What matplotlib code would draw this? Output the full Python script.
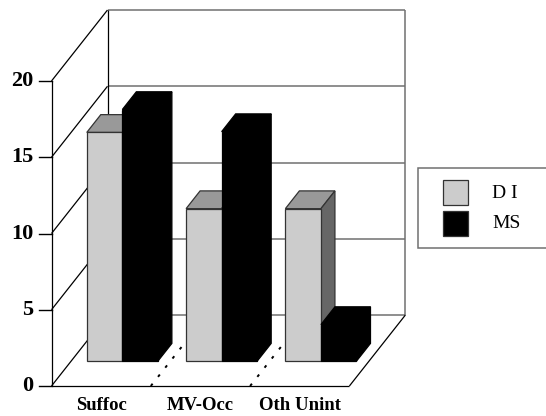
import matplotlib
matplotlib.use('Agg')
import matplotlib.pyplot as plt
from matplotlib.patches import Polygon, Rectangle

categories = ['Suffoc', 'MV-Occ', 'Oth Unint']
series_names = ['D I', 'MS']
di_values = [15, 10, 10]
ms_values = [16.5, 15.05, 2.4]
y_ticks = [0, 5, 10, 15, 20]

W, H = 546, 416
x_px = 99.3      # pixels per category
y_px = 15.25     # pixels per unit
x0_px, y0_px = 51.5, 386
DX = 56 / x_px   # depth shift of the back wall in data units
DY = 71 / y_px

plt.rcParams['font.family'] = ['Liberation Serif', 'DejaVu Serif']

fig = plt.figure(figsize=(W / 100, H / 100), dpi=100)
ax = fig.add_axes([0, 0, 1, 1])
ax.set_xlim(-x0_px / x_px, (W - x0_px) / x_px)
ax.set_ylim(-(H - y0_px) / y_px, y0_px / y_px)
ax.axis('off')


def project(x, v, d):
    return x + d * DX, v + d * DY


def line3d(p1, p2, **kw):
    a = project(*p1)
    b = project(*p2)
    ax.plot([a[0], b[0]], [a[1], b[1]], solid_capstyle='butt', **kw)


def box(x, w, v, d0, d1, front, top, side, edge):
    z = 5
    corners = [(x, v, d0), (x + w, v, d0), (x + w, v, d1), (x, v, d1)]
    ax.add_patch(Polygon([project(*c) for c in corners], fc=top, ec=edge, lw=0.9, zorder=z))
    corners = [(x + w, 0, d0), (x + w, v, d0), (x + w, v, d1), (x + w, 0, d1)]
    ax.add_patch(Polygon([project(*c) for c in corners], fc=side, ec=edge, lw=0.9, zorder=z))
    corners = [(x, 0, d0), (x + w, 0, d0), (x + w, v, d0), (x, v, d0)]
    ax.add_patch(Polygon([project(*c) for c in corners], fc=front, ec=edge, lw=0.9, zorder=z))


n = len(categories)
top = y_ticks[-1]
GREY = '#707070'

# back wall
for t in y_ticks:
    line3d((0, t, 1), (n, t, 1), color=GREY, lw=1.1, zorder=1)
line3d((n, 0, 1), (n, top, 1), color=GREY, lw=1.1, zorder=1)

# left wall
line3d((0, 0, 0), (0, top, 0), color='black', lw=0.9, zorder=2)
line3d((0, 0, 1), (0, top, 1), color='black', lw=0.9, zorder=2)
for t in y_ticks:
    line3d((0, t, 0), (0, t, 1), color='black', lw=0.9, zorder=2)
    a = project(0, t, 0)
    ax.plot([a[0] - 13 / x_px, a[0]], [t, t], color='black', lw=1.0, zorder=2)
    ax.text(a[0] - 18 / x_px, t, str(t), ha='right', va='center', fontsize=16, fontweight='bold')

# floor
line3d((0, 0, 0), (n, 0, 0), color='black', lw=0.9, zorder=2)
line3d((n, 0, 0), (n, 0, 1), color='black', lw=0.9, zorder=2)
for i in range(1, n):
    line3d((i, 0, 0), (i, 0, 1), color='black', lw=1.4, ls=(0, (1.5, 4.5)), zorder=2)

# bars
bar_w = 0.358
for i in range(n):
    x = i + 0.158
    box(x, bar_w, di_values[i], 0.35, 0.60, '#CCCCCC', '#999999', '#666666', '#333333')
    box(x + bar_w, bar_w, ms_values[i], 0.35, 0.60, 'black', 'black', 'black', 'black')
    ax.text(i + 0.5, -(406 - y0_px) / y_px, categories[i], ha='center', va='center',
            fontsize=13.5, fontweight='bold')


def px(x, y):
    return x / W, 1 - y / H


# legend
x, y = px(417.5, 248)
fig.add_artist(Rectangle((x, y), 140 / W, 80 / H, transform=fig.transFigure,
                         fc='white', ec=GREY, lw=1.1, zorder=6))
for name, color, y_top in zip(series_names, ['#CCCCCC', 'black'], [180, 210.5]):
    x, y = px(442.5, y_top + 25)
    fig.add_artist(Rectangle((x, y), 25 / W, 25 / H, transform=fig.transFigure,
                             fc=color, ec='#333333', lw=0.9, zorder=7))
    x, y = px(492, y_top + 13)
    fig.text(x, y, name, ha='left', va='center', fontsize=14, zorder=7)

fig.savefig('out.png', dpi=100)
